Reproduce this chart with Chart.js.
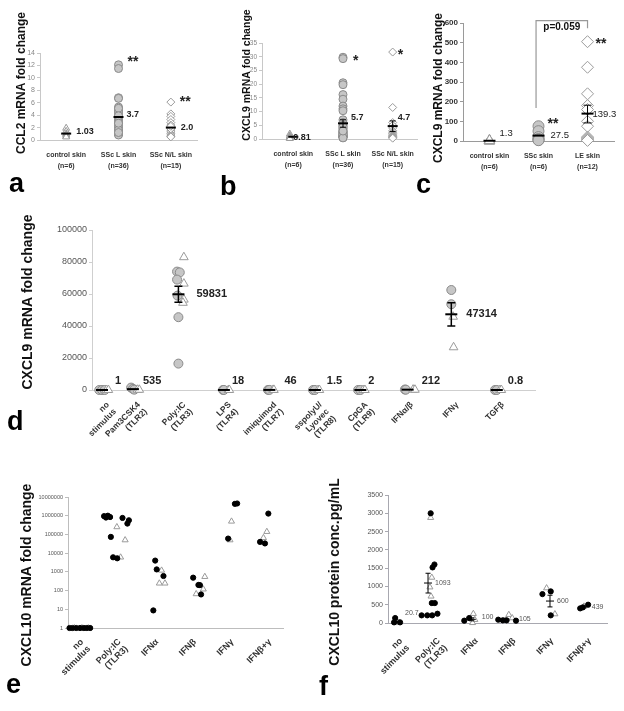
<!DOCTYPE html>
<html>
<head>
<meta charset="utf-8">
<script src="https://cdn.jsdelivr.net/npm/chart.js@4.4.0/dist/chart.umd.min.js"></script>
<style>
  body { margin: 0; background: #fff; width: 624px; height: 711px; position: relative; overflow: hidden; font-family: "Liberation Sans", Arial, sans-serif; }
  .pn { position: absolute; }
  .pn canvas { display: block; }
  .lt { position: absolute; font-weight: bold; font-size: 27px; line-height: 1; color: #000; }
</style>
</head>
<body>
<div class="pn" style="left:0;top:0"><canvas id="ca" width="205" height="180"></canvas></div>
<div class="pn" style="left:205px;top:0"><canvas id="cb" width="220" height="180"></canvas></div>
<div class="pn" style="left:410px;top:0"><canvas id="cc" width="214" height="180"></canvas></div>
<div class="pn" style="left:0;top:195px"><canvas id="cd" width="624" height="275"></canvas></div>
<div class="pn" style="left:0;top:470px"><canvas id="ce" width="320" height="241"></canvas></div>
<div class="pn" style="left:320px;top:470px"><canvas id="cf" width="304" height="241"></canvas></div>
<div class="lt" style="left:9px;top:170px">a</div>
<div class="lt" style="left:220px;top:173px">b</div>
<div class="lt" style="left:416px;top:171px">c</div>
<div class="lt" style="left:7px;top:408px">d</div>
<div class="lt" style="left:6px;top:671px">e</div>
<div class="lt" style="left:319px;top:673px">f</div>
<script>
// ---- panel a : CCL2 ----
const catsA = [['control skin', '(n=6)'], ['SSc L skin', '(n=36)'], ['SSc N/L skin', '(n=15)']];
const ctrlA = [1.9, 1.4, 1.0, 0.8, 0.6, 0.5];
const lesA = [12.1, 11.5, 6.8, 6.7, 5.3, 5.0, 4.7, 4.4, 4.1, 3.8, 3.6, 3.3, 3.0, 2.8, 2.6, 2.3, 2.1, 1.9,
  1.7, 1.5, 1.3, 1.1, 0.9, 0.8, 4.0, 3.5, 3.2, 2.9, 2.5, 2.0, 1.6, 1.2, 4.6, 5.1, 3.9, 2.7];
const nlA = [6.1, 4.2, 3.8, 3.3, 2.8, 2.4, 2.0, 1.6, 1.3, 1.0, 0.8, 0.6, 0.5, 1.8, 2.2];
const meanA = [1.03, 3.7, 2.0];
const meanTextA = ['1.03', '3.7', '2.0'];
const starA = ['', '**', '**'];
const starYA = [0, 13, 6.6];

// ---- panel b : CXCL9 ----
const catsB = [['control skin', '(n=6)'], ['SSc L skin', '(n=36)'], ['SSc N/L skin', '(n=15)']];
const ctrlB = [1.8, 1.2, 0.8, 0.5, 0.3, 0.2];
const lesB = [29.8, 29.3, 20.5, 19.8, 16.2, 14.5, 12.0, 11.0, 10.3, 7.0, 6.0, 5.0, 4.2, 3.5, 3.0, 2.5, 2.0, 1.5,
  1.0, 0.5, 0.8, 1.2, 1.8, 2.2, 2.8, 0.6, 0.9, 1.4, 3.8, 4.5, 2.4, 1.1, 0.7, 1.6, 0.4, 2.9];
const nlB = [31.7, 11.5, 6.0, 5.0, 4.0, 3.0, 2.5, 2.0, 1.5, 1.2, 1.0, 0.8, 0.6, 0.5, 0.3];
const meanB = [0.81, 5.7, 4.7];
const meanTextB = ['0.81', '5.7', '4.7'];
const errLoB = [4.3, 2.7];
const errHiB = [7.0, 6.6];
const starB = ['', '*', '*'];
const starYB = [0, 29.3, 31.8];

// ---- panel c : CXCL9 vs LE ----
const catsC = [['control skin', '(n=6)'], ['SSc skin', '(n=6)'], ['LE skin', '(n=12)']];
const ctrlC = [2, 1, 0.5, 1.5, 1, 2];
const sscC = [75, 50, 20, 10, 6, 4];
const leC = [505, 375, 240, 180, 160, 100, 75, 20, 15, 10, 5, 3];
const meanC = [1.3, 27.5, 139.3];
const meanTextC = ['1.3', '27.5', '139.3'];
const errLoC = [92];
const errHiC = [182];
const starC = ['', '**', '**'];
const starYC = [0, 102, 508];
const pValC = 'p=0.059';

// ---- panel d : CXCL9 after stimulation ----
const catsD = [['no', 'stimulus'], ['Pam3CSK4', '(TLR2)'], ['Poly:IC', '(TLR3)'], ['LPS', '(TLR4)'],
  ['imiquimod', '(TLR7)'], ['sspolyU/', 'Lyovec', '(TLR8)'], ['CpGA', '(TLR9)'], 'IFNα/β', 'IFNγ', 'TGFβ'];
const posD = [1.32, 2, 3, 4, 5, 6, 7, 8, 9, 10];
const circD = [[1.26, 1.2], [1.32, 0.9], [1.38, 0.8], [1.96, 1500], [2.0, 700], [2.03, 200],
  [2.97, 74000], [3.03, 73500], [2.97, 69000], [2.98, 59000], [3.0, 45500], [3.0, 16500],
  [3.98, 30], [4.0, 20], [4.97, 60], [5.0, 40], [5.96, 1.5], [6.0, 1.2], [6.95, 2], [7.0, 3],
  [7.98, 300], [8.0, 200], [9.0, 62500], [9.0, 53600], [9.96, 1], [10.0, 0.6]];
const triD = [[1.42, 1], [1.46, 0.8], [2.1, 150], [2.14, 125],
  [3.12, 83000], [3.12, 66500], [3.12, 56500], [3.1, 54500],
  [4.1, 15], [4.12, 10], [5.08, 40], [5.1, 50], [6.07, 1.5], [6.1, 1.8], [7.06, 2], [7.1, 1.5],
  [8.16, 250], [8.2, 160], [9.04, 45800], [9.05, 26700], [10.07, 0.8], [10.1, 0.9]];
const meanXD = [1.32, 2, 3, 4, 5, 6, 7, 8.04, 9, 10];
const meanD = [1, 535, 59831, 18, 46, 1.5, 2, 212, 47314, 0.8];
const meanTextD = ['1', '535', '59831', '18', '46', '1.5', '2', '212', '47314', '0.8'];
const errXD = [3, 9];
const errLoD = [54800, 40000];
const errHiD = [64800, 54600];

// ---- panel e : CXCL10 mRNA (log) ----
const catsE = [['no', 'stimulus'], ['Poly:IC', '(TLR3)'], 'IFNα', 'IFNβ', 'IFNγ', 'IFNβ+γ'];
const posE = [1, 2, 3, 4, 5, 6];
const ticksE = [1, 10, 100, 1000, 10000, 100000, 1000000, 10000000];
const dotE = [[0.72, 1], [0.8, 1], [0.9, 1], [1.0, 1], [1.1, 1], [1.18, 1], [1.27, 1],
  [1.64, 950000], [1.69, 800000], [1.74, 1000000], [1.8, 850000], [1.82, 74000], [1.88, 6000], [1.99, 5300],
  [2.13, 760000], [2.26, 380000], [2.3, 570000],
  [3.0, 4000], [3.04, 1350], [3.22, 600], [2.95, 8.7],
  [4.01, 490], [4.15, 200], [4.19, 195], [4.22, 62],
  [4.94, 60000], [5.12, 4300000], [5.18, 4500000],
  [5.79, 40000], [5.92, 33000], [6.01, 1300000]];
const triE = [[0.85, 1], [1.05, 1], [1.22, 1],
  [1.98, 250000], [2.08, 6000], [2.2, 50000],
  [3.17, 1200], [3.11, 245], [3.26, 245],
  [4.09, 66], [4.28, 118], [4.32, 550],
  [4.99, 50000], [5.03, 500000],
  [5.88, 66000], [5.97, 140000]];

// ---- panel f : CXCL10 protein ----
const catsF = [['no', 'stimulus'], ['Poly:IC', '(TLR3)'], 'IFNα', 'IFNβ', 'IFNγ', 'IFNβ+γ'];
const posF = [1, 2, 3, 4, 5, 6];
const dotF = [[0.95, 136], [0.92, 18], [1.08, 18],
  [1.65, 209], [1.8, 209], [1.93, 209], [2.07, 254], [1.92, 545], [2.0, 545], [1.89, 3000], [1.99, 1600], [1.94, 1520],
  [2.78, 64], [2.91, 136],
  [3.68, 91], [3.8, 73], [3.9, 73], [4.15, 64],
  [4.85, 790], [5.07, 864], [5.07, 209],
  [5.85, 400], [5.92, 427], [6.06, 500]];
const triF = [[1.0, 5], [1.05, 10],
  [1.89, 2880], [1.92, 1245], [1.87, 980], [1.9, 730],
  [3.02, 254], [3.06, 90], [3.0, 5],
  [3.96, 227], [4.05, 136],
  [4.96, 955], [5.18, 245],
  [5.95, 455]];
const meanXF = [1.0, 1.82, 2.98, 3.86, 5.05, 5.92];
const meanF = [20.7, 1093, 100, 105, 600, 439];
const meanTextF = ['20.7', '1093', '100', '105', '600', '439'];
const errLoF = [2, 820, 60, 80, 440, 415];
const errHiF = [45, 1360, 140, 130, 760, 460];

const FONT = '"Liberation Sans", Arial, sans-serif';

const at = (vals, x) => vals.map(v => ({x: x, y: v}));
const xy = pairs => pairs.map(p => ({x: p[0], y: p[1]}));

function mark(data, style, r, fill, line) {
  return {
    data: data, clip: false,
    pointStyle: style, pointRadius: r, pointHoverRadius: r,
    pointBackgroundColor: fill, pointBorderColor: line, pointBorderWidth: 1
  };
}
function meanMark(data, r, w) {
  return {
    data: data, clip: false,
    pointStyle: 'line', pointRadius: r, pointHoverRadius: r,
    pointBorderColor: '#000', pointBackgroundColor: '#000', pointBorderWidth: w
  };
}

// draws error bars, value labels, stars, brackets and the y title
function extras(o, t) {
  return {
    id: 'extras',
    afterDatasetsDraw(chart) {
      const {ctx, chartArea: ca} = chart;
      const x = chart.scales.x, y = chart.scales.y;
      ctx.save();
      if (o.err) {
        ctx.strokeStyle = '#000';
        ctx.lineWidth = o.err.width;
        o.err.x.forEach((xv, i) => {
          const px = x.getPixelForValue(xv);
          const p1 = y.getPixelForValue(o.err.lo[i]), p2 = y.getPixelForValue(o.err.hi[i]);
          ctx.beginPath();
          ctx.moveTo(px, p1); ctx.lineTo(px, p2);
          ctx.moveTo(px - o.err.cap, p1); ctx.lineTo(px + o.err.cap, p1);
          ctx.moveTo(px - o.err.cap, p2); ctx.lineTo(px + o.err.cap, p2);
          ctx.stroke();
        });
      }
      (o.texts || []).forEach(L => {
        ctx.font = L.font;
        ctx.fillStyle = L.color;
        ctx.textAlign = 'left';
        ctx.textBaseline = 'middle';
        L.text.forEach((s, i) => {
          if (!s) return;
          const dx = Array.isArray(L.dx) ? L.dx[i] : L.dx;
          const dy = Array.isArray(L.dy) ? L.dy[i] : L.dy;
          let py = y.getPixelForValue(L.y[i]) + dy;
          if (L.floor != null) py = Math.min(py, ca.bottom - L.floor);
          ctx.fillText(s, x.getPixelForValue(L.x[i]) + dx, py);
        });
      });
      if (o.bracket) {
        const b = o.bracket;
        const x0 = x.getPixelForValue(b.x0), x1 = x.getPixelForValue(b.x1);
        const top = y.getPixelForValue(b.top);
        ctx.strokeStyle = b.color;
        ctx.lineWidth = 1.2;
        ctx.beginPath();
        ctx.moveTo(x0, y.getPixelForValue(b.y0));
        ctx.lineTo(x0, top);
        ctx.lineTo(x1, top);
        ctx.lineTo(x1, y.getPixelForValue(b.y1));
        ctx.stroke();
        ctx.font = b.font;
        ctx.fillStyle = '#111';
        ctx.textAlign = 'center';
        ctx.textBaseline = 'middle';
        ctx.fillText(b.text, (x0 + x1) / 2, top + 7);
      }
      // y axis title
      ctx.translate(t.x, t.y);
      ctx.rotate(-Math.PI / 2);
      ctx.font = 'bold ' + t.size + 'px ' + FONT;
      ctx.fillStyle = '#111';
      ctx.textAlign = 'center';
      ctx.textBaseline = 'middle';
      ctx.fillText(t.text, 0, 0);
      ctx.restore();
    }
  };
}

function makePanel(o) {
  const cv = document.getElementById(o.id);
  const W = cv.width, H = cv.height, A = o.area;
  const yScale = {
    type: o.log ? 'logarithmic' : 'linear',
    min: o.yMin, max: o.yMax,
    afterFit: s => { s.width = A.left; },
    border: {display: true, color: o.axisColor, width: 1},
    grid: {display: true, drawOnChartArea: false, drawTicks: true, tickLength: 3, color: o.axisColor},
    ticks: {font: o.yTickFont, color: o.yTickColor, padding: 2, autoSkip: false, callback: v => String(v)},
    title: {display: false, text: o.title}
  };
  if (o.yStep) yScale.ticks.stepSize = o.yStep;
  if (o.yTicks) yScale.afterBuildTicks = s => { s.ticks = o.yTicks.map(v => ({value: v})); };
  const xScale = {
    type: 'linear', min: o.xMin, max: o.xMax,
    afterFit: s => { s.height = H - A.bottom; },
    afterBuildTicks: s => { s.ticks = o.catPos.map(v => ({value: v})); },
    border: {display: true, color: o.axisColor, width: 1},
    grid: {display: false, drawTicks: false},
    ticks: {
      autoSkip: false, maxRotation: o.rot, minRotation: o.rot, padding: o.xPad,
      labelOffset: o.labelOffset || 0,
      font: o.xFont, color: '#333', callback: (v, i) => o.cats[i]
    }
  };
  return new Chart(cv, {
    type: 'scatter',
    data: {datasets: o.datasets},
    options: {
      responsive: false, animation: false, events: [],
      layout: {padding: {left: 0, top: A.top, right: W - A.right, bottom: 0}},
      scales: {x: xScale, y: yScale},
      plugins: {legend: {display: false}, tooltip: {enabled: false}}
    },
    plugins: [extras(o.extra, {text: o.title, size: o.titleSize, x: o.titleX, y: o.titleY})]
  });
}

const GREY = '#c6c6c6', GREYLINE = '#8a8a8a', OPEN = '#ffffff', OPENLINE = '#9a9a9a';
const catFont = {family: FONT, size: 7, weight: 'bold', lineHeight: 1.5};

// a
makePanel({
  id: 'ca', area: {left: 40, top: 53, right: 197, bottom: 140},
  yMin: 0, yMax: 14, yStep: 2, axisColor: '#c8c8c8',
  yTickFont: {family: FONT, size: 7}, yTickColor: '#888',
  title: 'CCL2 mRNA fold change', titleSize: 12, titleX: 22, titleY: 83,
  xMin: 0.5, xMax: 3.5, catPos: [1, 2, 3], cats: catsA, rot: 0, xPad: 10, xFont: catFont,
  datasets: [
    meanMark(meanA.map((v, i) => ({x: i + 1, y: v})), 5, 2),
    mark(at(ctrlA, 1), 'triangle', 4, OPEN, OPENLINE),
    mark(at(lesA, 2), 'circle', 4, GREY, GREYLINE),
    mark(at(nlA, 3), 'rectRot', 4, OPEN, OPENLINE)
  ],
  extra: {
    texts: [
      {text: meanTextA, x: [1, 2, 3], y: meanA, dx: [10, 8, 10], dy: [-2, -2, 0], font: 'bold 9px ' + FONT, color: '#222'},
      {text: starA, x: [1, 2, 3], y: starYA, dx: 9, dy: 3, font: 'bold 14px ' + FONT, color: '#222'}
    ]
  }
});

// b
makePanel({
  id: 'cb', area: {left: 57, top: 43, right: 215, bottom: 139},
  yMin: 0, yMax: 35, yStep: 5, axisColor: '#c8c8c8',
  yTickFont: {family: FONT, size: 6.5}, yTickColor: '#888',
  title: 'CXCL9 mRNA fold change', titleSize: 10.5, titleX: 42, titleY: 75,
  xMin: 0.37, xMax: 3.5, catPos: [1, 2, 3], cats: catsB, rot: 0, xPad: 10, xFont: catFont,
  datasets: [
    meanMark(meanB.map((v, i) => ({x: i + 1, y: v})), 5, 2),
    mark(at(ctrlB, 0.93), 'triangle', 4, OPEN, OPENLINE),
    mark(at(lesB, 2), 'circle', 4, GREY, GREYLINE),
    mark(at(nlB, 3), 'rectRot', 4, OPEN, OPENLINE)
  ],
  extra: {
    err: {x: [2, 3], lo: errLoB, hi: errHiB, cap: 3, width: 1},
    texts: [
      {text: meanTextB, x: [1, 2, 3], y: meanB, dx: [0, 8, 5], dy: [1, -6, -9], font: 'bold 9px ' + FONT, color: '#222'},
      {text: starB, x: [1, 2, 3], y: starYB, dx: [0, 10, 5], dy: 3, font: 'bold 14px ' + FONT, color: '#222'}
    ]
  }
});

// c
makePanel({
  id: 'cc', area: {left: 53, top: 23, right: 204, bottom: 141},
  yMin: 0, yMax: 600, yStep: 100, axisColor: '#9a9a9a',
  yTickFont: {family: FONT, size: 8, weight: 'bold'}, yTickColor: '#333',
  title: 'CXCL9 mRNA fold change', titleSize: 12, titleX: 29, titleY: 88,
  xMin: 0.46, xMax: 3.54, catPos: [1, 2, 3], cats: catsC, rot: 0, xPad: 10, xFont: catFont,
  datasets: [
    meanMark(meanC.map((v, i) => ({x: i + 1, y: v})), 6, 2),
    mark(at(ctrlC, 1), 'triangle', 6, OPEN, OPENLINE),
    mark(at(sscC, 2), 'circle', 5.5, GREY, GREYLINE),
    mark(at(leC, 3), 'rectRot', 6, OPEN, OPENLINE)
  ],
  extra: {
    err: {x: [3], lo: errLoC, hi: errHiC, cap: 4, width: 1},
    texts: [
      {text: meanTextC, x: [1, 2, 3], y: meanC, dx: [10, 12, 5], dy: [-7, 0, 1], font: '9.5px ' + FONT, color: '#222'},
      {text: starC, x: [1, 2, 3], y: starYC, dx: [0, 9, 8], dy: 3, font: 'bold 14px ' + FONT, color: '#222'}
    ],
    bracket: {x0: 1.95, x1: 3.0, y0: 168, top: 612, y1: 573, text: pValC, color: '#999', font: 'bold 10px ' + FONT}
  }
});

// d
makePanel({
  id: 'cd', area: {left: 92, top: 35, right: 535, bottom: 195},
  yMin: 0, yMax: 100000, yStep: 20000, axisColor: '#cfcfcf',
  yTickFont: {family: FONT, size: 9}, yTickColor: '#555',
  title: 'CXCL9 mRNA fold change', titleSize: 14, titleX: 28, titleY: 107,
  xMin: 1.1, xMax: 10.84, catPos: posD, cats: catsD, rot: 45, xPad: 10, labelOffset: 6,
  xFont: {family: FONT, size: 8.5, weight: 'bold', lineHeight: 1.15},
  datasets: [
    meanMark(meanD.map((v, i) => ({x: meanXD[i], y: v})), 6, 2),
    mark(xy(triD), 'triangle', 5, OPEN, OPENLINE),
    mark(xy(circD), 'circle', 4.5, GREY, GREYLINE)
  ],
  extra: {
    err: {x: errXD, lo: errLoD, hi: errHiD, cap: 4, width: 1.5},
    texts: [
      {text: meanTextD, x: meanXD, y: meanD, dx: [13, 10, 18, 8, 15, 12, 8, 14, 15, 11], dy: 0, floor: 9,
        font: 'bold 11px ' + FONT, color: '#222'}
    ]
  }
});

// e
makePanel({
  id: 'ce', area: {left: 68, top: 27, right: 283, bottom: 158},
  log: true, yMin: 1, yMax: 10000000, yTicks: ticksE, axisColor: '#bdbdbd',
  yTickFont: {family: FONT, size: 5.5}, yTickColor: '#555',
  title: 'CXCL10 mRNA fold change', titleSize: 14, titleX: 27, titleY: 105,
  xMin: 0.68, xMax: 6.4, catPos: posE, cats: catsE, rot: 45, xPad: 9, labelOffset: 2,
  xFont: {family: FONT, size: 9, weight: 'bold', lineHeight: 1.1},
  datasets: [
    mark(xy(dotE), 'circle', 2.6, '#000', '#000'),
    mark(xy(triE), 'triangle', 3.5, OPEN, OPENLINE)
  ],
  extra: {}
});

// f
makePanel({
  id: 'cf', area: {left: 68, top: 25, right: 287, bottom: 153},
  yMin: 0, yMax: 3500, yStep: 500, axisColor: '#a8a8b0',
  yTickFont: {family: FONT, size: 7}, yTickColor: '#555',
  title: 'CXCL10 protein conc.pg/mL', titleSize: 14, titleX: 15, titleY: 102,
  xMin: 0.76, xMax: 6.56, catPos: posF, cats: catsF, rot: 45, xPad: 13, labelOffset: 4,
  xFont: {family: FONT, size: 9, weight: 'bold', lineHeight: 1.1},
  datasets: [
    meanMark(meanF.map((v, i) => ({x: meanXF[i], y: v})), 4, 1),
    mark(xy(dotF), 'circle', 2.6, '#000', '#000'),
    mark(xy(triF), 'triangle', 3.5, OPEN, OPENLINE)
  ],
  extra: {
    err: {x: meanXF, lo: errLoF, hi: errHiF, cap: 2.5, width: 1},
    texts: [
      {text: meanTextF, x: meanXF, y: meanF, dx: [8, 7, 10, 14, 7, 9], dy: [-9, 0, -2, 0, 0, 0],
        font: '7px ' + FONT, color: '#555'}
    ]
  }
});
</script>
</body>
</html>
